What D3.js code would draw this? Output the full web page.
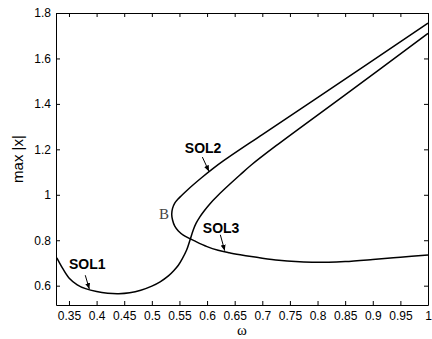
<!DOCTYPE html>
<html>
<head>
<meta charset="utf-8">
<script src="https://cdn.jsdelivr.net/npm/d3@7"></script>
<style>
  body { margin: 0; background: #fff; }
  svg { display: block; }
  .tick text { font-family: "Liberation Sans", Arial, sans-serif; font-size: 12px; fill: #000; }
</style>
</head>
<body>
<div id="chart"></div>
<script>
// values (omega, max |x|)
var sol1Branch = [
  [0.328, 0.722], [0.338, 0.678], [0.350, 0.634], [0.365, 0.604], [0.380, 0.587],
  [0.400, 0.574], [0.420, 0.567], [0.440, 0.565], [0.460, 0.569], [0.480, 0.580],
  [0.500, 0.598], [0.515, 0.617], [0.530, 0.643], [0.540, 0.667], [0.548, 0.690],
  [0.555, 0.718], [0.563, 0.757], [0.569, 0.800], [0.575, 0.845], [0.580, 0.874],
  [0.587, 0.903], [0.595, 0.930], [0.605, 0.960], [0.620, 0.998], [0.640, 1.044],
  [0.660, 1.088], [0.680, 1.131], [0.725, 1.216], [0.850, 1.440], [1.000, 1.710]
];

var sol23Branch = [
  [1.000, 0.735], [0.950, 0.725], [0.900, 0.715], [0.850, 0.706], [0.820, 0.703],
  [0.790, 0.703], [0.760, 0.706], [0.730, 0.712], [0.700, 0.721], [0.680, 0.728],
  [0.660, 0.736], [0.640, 0.745], [0.620, 0.756], [0.600, 0.772], [0.580, 0.794],
  [0.557, 0.823], [0.548, 0.841], [0.5415, 0.862], [0.5375, 0.889], [0.536, 0.914],
  [0.5375, 0.940], [0.5415, 0.963], [0.547, 0.980], [0.553, 0.995], [0.563, 1.018],
  [0.575, 1.044], [0.590, 1.075], [0.610, 1.114], [0.630, 1.150], [0.700, 1.265],
  [0.800, 1.428], [1.000, 1.755]
];

var xTicks = [0.35, 0.4, 0.45, 0.5, 0.55, 0.6, 0.65, 0.7, 0.75, 0.8, 0.85, 0.9, 0.95, 1];
var xTickLabels = ["0.35", "0.4", "0.45", "0.5", "0.55", "0.6", "0.65", "0.7", "0.75", "0.8", "0.85", "0.9", "0.95", "1"];
var yTicks = [0.6, 0.8, 1, 1.2, 1.4, 1.6, 1.8];
var yTickLabels = ["0.6", "0.8", "1", "1.2", "1.4", "1.6", "1.8"];

// annotations: label position and arrow (from, to) in data units
var labels = [
  { text: "SOL1", at: [0.350, 0.675], from: [0.3795, 0.646], to: [0.3868, 0.585] },
  { text: "SOL2", at: [0.5597, 1.182], from: [0.5915, 1.166], to: [0.6035, 1.103] },
  { text: "SOL3", at: [0.5923, 0.834], from: [0.6240, 0.824], to: [0.6320, 0.754] }
];
var bPoint = [0.531, 0.894];

var width = 432, height = 339;
var margin = { top: 13, right: 4, bottom: 34, left: 56 };

var svg = d3.select("#chart").append("svg")
  .attr("width", width)
  .attr("height", height);

var x = d3.scaleLinear()
  .domain([0.3265, 1.0])
  .range([margin.left, width - margin.right]);

var y = d3.scaleLinear()
  .domain([0.515, 1.8])
  .range([height - margin.bottom, margin.top]);

// axes, matlab style: ticks pointing inwards on all four sides
svg.append("g")
  .attr("transform", "translate(0," + (height - margin.bottom) + ")")
  .call(d3.axisBottom(x).tickValues(xTicks)
    .tickFormat(function(d, i){ return xTickLabels[i]; })
    .tickSizeInner(-4).tickSizeOuter(0).tickPadding(6));

svg.append("g")
  .attr("transform", "translate(0," + margin.top + ")")
  .call(d3.axisTop(x).tickValues(xTicks).tickFormat("")
    .tickSizeInner(-4).tickSizeOuter(0));

svg.append("g")
  .attr("transform", "translate(" + margin.left + ",0)")
  .call(d3.axisLeft(y).tickValues(yTicks)
    .tickFormat(function(d, i){ return yTickLabels[i]; })
    .tickSizeInner(-4).tickSizeOuter(0).tickPadding(5));

svg.append("g")
  .attr("transform", "translate(" + (width - margin.right) + ",0)")
  .call(d3.axisRight(y).tickValues(yTicks).tickFormat("")
    .tickSizeInner(-4).tickSizeOuter(0));

svg.selectAll(".domain").attr("stroke", "#000");
svg.selectAll(".tick line").attr("stroke", "#000");

// the curves
var line = d3.line()
  .x(function(d){ return x(d[0]); })
  .y(function(d){ return y(d[1]); })
  .curve(d3.curveCatmullRom.alpha(0.5));

[sol1Branch, sol23Branch].forEach(function(branch){
  svg.append("path")
    .datum(branch)
    .attr("d", line)
    .attr("fill", "none")
    .attr("stroke", "#000")
    .attr("stroke-width", 1.5);
});

// arrow head marker
svg.append("defs").append("marker")
  .attr("id", "head")
  .attr("markerUnits", "userSpaceOnUse")
  .attr("markerWidth", 6).attr("markerHeight", 5)
  .attr("refX", 6).attr("refY", 2.5)
  .attr("orient", "auto")
  .append("path")
  .attr("d", "M0,0L6,2.5L0,5Z")
  .attr("fill", "#000");

labels.forEach(function(l){
  svg.append("text")
    .attr("x", x(l.at[0]))
    .attr("y", y(l.at[1]))
    .attr("font-family", "Liberation Sans, Arial, sans-serif")
    .attr("font-weight", "bold")
    .attr("font-size", "14px")
    .text(l.text);
  svg.append("line")
    .attr("x1", x(l.from[0])).attr("y1", y(l.from[1]))
    .attr("x2", x(l.to[0])).attr("y2", y(l.to[1]))
    .attr("stroke", "#000")
    .attr("stroke-width", 1)
    .attr("marker-end", "url(#head)");
});

svg.append("text")
  .attr("x", x(bPoint[0]))
  .attr("y", y(bPoint[1]))
  .attr("text-anchor", "end")
  .attr("font-family", "Liberation Serif, Times New Roman, serif")
  .attr("font-size", "15px")
  .attr("fill", "#444")
  .text("B");

// axis titles
svg.append("text")
  .attr("x", (margin.left + width - margin.right) / 2)
  .attr("y", 335)
  .attr("text-anchor", "middle")
  .attr("font-family", "Liberation Serif, Times New Roman, serif")
  .attr("font-size", "15px")
  .text("\u03C9");

svg.append("text")
  .attr("transform", "translate(22.5," + ((margin.top + height - margin.bottom) / 2) + ")rotate(-90)")
  .attr("text-anchor", "middle")
  .attr("font-family", "Liberation Sans, Arial, sans-serif")
  .attr("font-size", "15px")
  .text("max |x|");
</script>
</body>
</html>
